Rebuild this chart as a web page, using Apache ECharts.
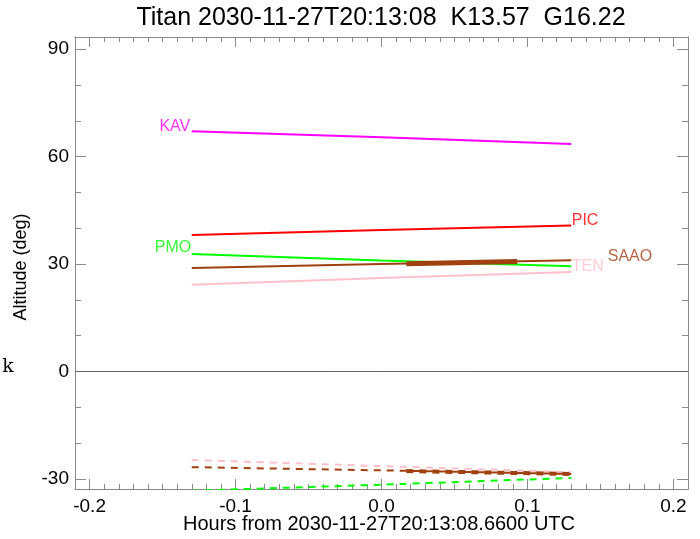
<!DOCTYPE html>
<html><head><meta charset="utf-8">
<script src="https://cdn.jsdelivr.net/npm/echarts@6/dist/echarts.min.js"></script>
<style>html,body{margin:0;padding:0;background:#fff}#c{width:700px;height:539px}</style>
</head><body><div id="c"></div>
<script>
// ---- data (hours from reference time, altitude in degrees) ----
const hours = [-0.13, 0.0, 0.13];
const kavAlt = [67.1, 65.4, 63.5];
const picAlt = [38.1, 39.5, 40.8];
const pmoAlt = [32.8, 31.0, 29.4];
const saaoAlt = [28.9, 30.0, 31.1];
const tenAlt = [24.2, 26.1, 27.8];
// highlighted (thick) SAAO window
const saaoWinHours = [0.017, 0.093];
const saaoWinAlt = [30.1, 30.7];
// dashed curves (lower)
const tenLow = [-24.7, -26.4, -28.1];
const saaoLow = [-26.7, -27.6, -28.6];
const pmoLow = [-33.3, -31.6, -29.7];
const saaoLowWinHours = [0.017, 0.13];
const saaoLowWinAlt = [-27.8, -28.6];
// axes
const xTicks = [-0.2, -0.1, 0.0, 0.1, 0.2];
const yTicks = [-30, 0, 30, 60, 90];
const xMin = -0.21, xMax = 0.21, yMin = -32.8, yMax = 93.4;

const xMinor = [];
for (let i = -21; i <= 21; i++) { if (i % 10 !== 0) xMinor.push(i / 100); }
const yMinor = [];
for (let v = -30; v <= 90; v += 10) { if (v % 30 !== 0) yMinor.push(v); }

const AX = '#8a8a8a';
const FONT = 'Liberation Sans';

function xAxisDef(pos, ticks, len, labels, gridIndex) {
  return {
    type: 'value', gridIndex, position: pos, min: xMin, max: xMax,
    axisLine: { show: true, onZero: false, lineStyle: { color: AX, width: 1 } },
    axisTick: { show: true, inside: true, length: len, customValues: ticks, lineStyle: { color: AX } },
    axisLabel: labels ? { show: true, customValues: ticks, formatter: v => v.toFixed(1), fontSize: 19, fontFamily: FONT, color: '#000', margin: 8 } : { show: false },
    splitLine: { show: false }
  };
}
function yAxisDef(pos, ticks, len, labels, gridIndex) {
  return {
    type: 'value', gridIndex, position: pos, min: yMin, max: yMax,
    axisLine: { show: true, onZero: false, lineStyle: { color: AX, width: 1 } },
    axisTick: { show: true, inside: true, length: len, customValues: ticks, lineStyle: { color: AX } },
    axisLabel: labels ? { show: true, customValues: ticks, formatter: v => String(v), fontSize: 19, fontFamily: FONT, color: '#000', margin: 6 } : { show: false },
    splitLine: { show: false }
  };
}

function pts(xs, ys) { return xs.map((x, i) => [x, ys[i]]); }
function solid(name, data, color, width) {
  return { name, type: 'line', xAxisIndex: 0, yAxisIndex: 0, data, symbol: 'none', showSymbol: false,
    lineStyle: { color, width: width || 2 }, itemStyle: { color }, silent: true, animation: false, z: 3 };
}
function dashed(name, data, color, width) {
  return { name, type: 'line', xAxisIndex: 0, yAxisIndex: 0, data, symbol: 'none', showSymbol: false,
    lineStyle: { color, width: width || 2, type: [7, 6] }, itemStyle: { color }, silent: true, animation: false, z: 3 };
}
// station name placed at one end of its curve
function nameTag(text, x, y, color, position, offset) {
  return { type: 'scatter', xAxisIndex: 0, yAxisIndex: 0, symbol: 'circle', symbolSize: 1, silent: true, z: 4,
    itemStyle: { color: 'rgba(0,0,0,0)' },
    data: [{ value: [x, y], label: { show: true, formatter: text, position, offset, distance: 2,
      color, fontSize: 16, fontFamily: FONT } }] };
}

const C = { KAV: '#ff00ff', PIC: '#ff0000', PMO: '#00ff00', SAAO: '#a0400f', TEN: '#ffc0cb' };
const last = hours.length - 1;

const option = {
  backgroundColor: '#fff',
  animation: false,
  grid: [
    { left: 75, right: 12, top: 37, bottom: 50 },
    { left: 75, right: 12, top: 37, bottom: 50 }
  ],
  xAxis: [
    xAxisDef('bottom', xTicks, 10, true, 0),
    xAxisDef('top', xTicks, 10, false, 0),
    xAxisDef('bottom', xMinor, 5, false, 1),
    xAxisDef('top', xMinor, 5, false, 1)
  ],
  yAxis: [
    yAxisDef('left', yTicks, 11, true, 0),
    yAxisDef('right', yTicks, 11, false, 0),
    yAxisDef('left', yMinor, 6, false, 1),
    yAxisDef('right', yMinor, 6, false, 1)
  ],
  series: [
    { type: 'line', xAxisIndex: 0, yAxisIndex: 0, data: [[xMin, 0], [xMax, 0]], symbol: 'none',
      lineStyle: { color: '#666', width: 1 }, silent: true, z: 1 },
    solid('KAV', pts(hours, kavAlt), C.KAV),
    solid('PIC', pts(hours, picAlt), C.PIC),
    solid('PMO', pts(hours, pmoAlt), C.PMO),
    solid('SAAO', pts(hours, saaoAlt), C.SAAO),
    solid('SAAOwin', pts(saaoWinHours, saaoWinAlt), C.SAAO, 5),
    solid('TEN', pts(hours, tenAlt), C.TEN),
    dashed('TENlow', pts(hours, tenLow), C.TEN),
    dashed('SAAOlow', pts(hours, saaoLow), C.SAAO),
    dashed('SAAOlowWin', pts(saaoLowWinHours, saaoLowWinAlt), C.SAAO, 4),
    dashed('PMOlow', pts(hours, pmoLow), C.PMO),
    nameTag('KAV', hours[0], kavAlt[0], C.KAV, 'left', [1, -5]),
    nameTag('PIC', hours[last], picAlt[last], C.PIC, 'right', [-2, -5]),
    nameTag('PMO', hours[0], pmoAlt[0], C.PMO, 'left', [2, -6]),
    nameTag('SAAO', hours[last], saaoAlt[last], C.SAAO, 'right', [34, -4]),
    nameTag('TEN', hours[last], tenAlt[last], C.TEN, 'right', [-2, -5])
  ],
  graphic: [
    { type: 'text', x: 381, y: 18, style: { text: 'Titan 2030-11-27T20:13:08  K13.57  G16.22', fontSize: 25, fontFamily: FONT, fill: '#000', align: 'center', verticalAlign: 'middle' } },
    { type: 'text', x: 379, y: 524, style: { text: 'Hours from 2030-11-27T20:13:08.6600 UTC', fontSize: 20, fontFamily: FONT, fill: '#000', align: 'center', verticalAlign: 'middle' } },
    { type: 'text', x: 21, y: 267, rotation: Math.PI / 2, style: { text: 'Altitude (deg)', fontSize: 18, fontFamily: FONT, fill: '#000', align: 'center', verticalAlign: 'middle' } },
    { type: 'text', x: 8, y: 367, style: { text: 'k', fontSize: 19, fontFamily: 'DejaVu Serif', fill: '#000', align: 'center', verticalAlign: 'middle' } }
  ]
};
const chart = echarts.init(document.getElementById('c'), null, { renderer: 'canvas' });
chart.setOption(option);
</script></body></html>
